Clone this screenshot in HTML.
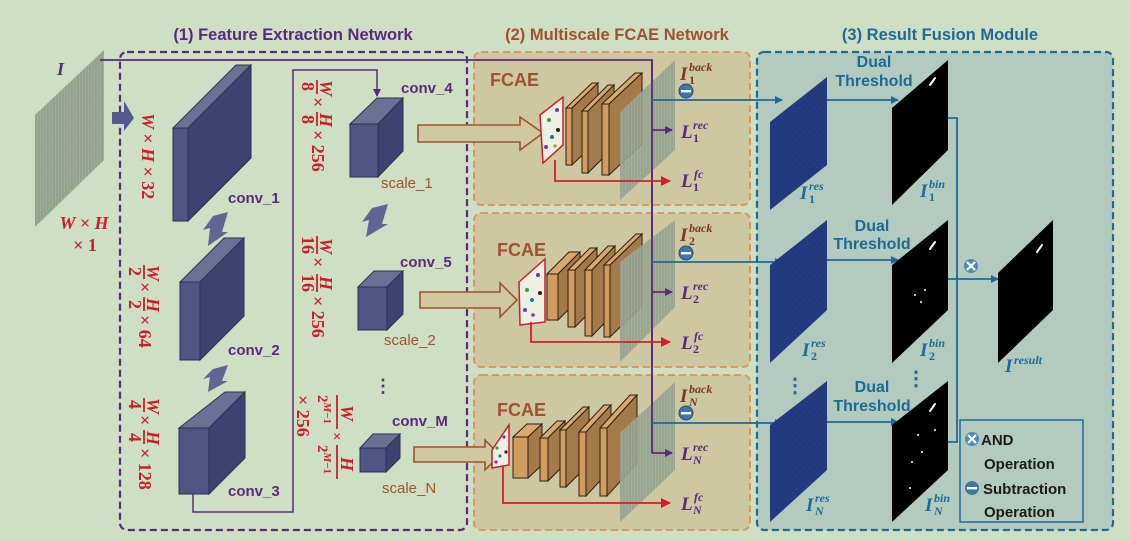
<!DOCTYPE html>
<html><head><meta charset="utf-8"><style>html,body{margin:0;padding:0;background:#cfdfc4}svg{display:block}</style></head>
<body>
<svg width="1130" height="541" viewBox="0 0 1130 541" xmlns="http://www.w3.org/2000/svg" font-family="Liberation Sans, sans-serif">
<defs>
<marker id="ab" markerWidth="8" markerHeight="8" refX="7" refY="4" orient="auto" markerUnits="userSpaceOnUse"><path d="M0,0 L8,4 L0,8z" fill="#1e6a97"/></marker>
<marker id="ap" markerWidth="8" markerHeight="8" refX="7" refY="4" orient="auto" markerUnits="userSpaceOnUse"><path d="M0,0 L8,4 L0,8z" fill="#5b2a7c"/></marker>
<marker id="ar" markerWidth="10" markerHeight="10" refX="9" refY="5" orient="auto" markerUnits="userSpaceOnUse"><path d="M0,0 L10,5 L0,10z" fill="#d0202a"/></marker>
<pattern id="tex" width="6" height="6" patternUnits="userSpaceOnUse"><rect width="6" height="6" fill="#93a08c"/><path d="M1,0 L2,6 M4,0 L4.5,6" stroke="#a9b3a1" stroke-width="0.7"/></pattern>
<pattern id="res" width="7" height="7" patternUnits="userSpaceOnUse"><rect width="7" height="7" fill="#23397e"/><circle cx="2" cy="3" r="0.6" fill="#2c4690"/><circle cx="5" cy="6" r="0.6" fill="#2c4690"/></pattern>
</defs>
<rect width="1130" height="541" fill="#cfdfc4"/>

<text x="293" y="40" text-anchor="middle" font-size="16.5" font-weight="bold" fill="#5b2a7c">(1) Feature Extraction Network</text>
<text x="617" y="40" text-anchor="middle" font-size="16.5" font-weight="bold" fill="#a0522d">(2) Multiscale FCAE Network</text>
<text x="940" y="40" text-anchor="middle" font-size="16.5" font-weight="bold" fill="#1e6a97">(3) Result Fusion Module</text>

<rect x="120" y="52" width="347" height="478" rx="7" fill="none" stroke="#5b2a7c" stroke-width="2.2" stroke-dasharray="7,4"/>
<rect x="474" y="52" width="276" height="153" rx="7" fill="#cdc7a2" stroke="#d89a5c" stroke-width="2" stroke-dasharray="7,4"/>
<rect x="474" y="213" width="276" height="154" rx="7" fill="#cdc7a2" stroke="#d89a5c" stroke-width="2" stroke-dasharray="7,4"/>
<rect x="474" y="375" width="276" height="155" rx="7" fill="#cdc7a2" stroke="#d89a5c" stroke-width="2" stroke-dasharray="7,4"/>
<rect x="757" y="52" width="356" height="478" rx="7" fill="#b3cbbf" stroke="#1e6a97" stroke-width="2.2" stroke-dasharray="7,4"/>

<polygon points="35,115 104,50 104,160 35,227" fill="url(#tex)"/>
<text x="57" y="75" font-family="Liberation Serif, serif" font-style="italic" font-weight="bold" font-size="18" fill="#5b2a7c">I</text>
<text x="84" y="229" text-anchor="middle" font-family="Liberation Serif, serif" font-style="italic" font-weight="bold" font-size="18" fill="#c8202a">W × H</text>
<text x="85" y="251" text-anchor="middle" font-family="Liberation Serif, serif" font-weight="bold" font-size="18" fill="#c8202a">× 1</text>
<polygon points="112,112 124,112 124,101 134,118 124,131 124,124 112,124" fill="#525a8e"/>

<polyline points="100,60 652,60 652,453 672,453" fill="none" stroke="#5b2a7c" stroke-width="1.8" marker-end="url(#ap)"/>
<polyline points="193,494 193,512 293,512 293,70 377,70 377,96" fill="none" stroke="#5b2a7c" stroke-width="1.5" marker-end="url(#ap)"/>

<g stroke="#2e3050" stroke-width="1">
<polygon points="173,128 236,65 251,65 188,128" fill="#6a7193"/><polygon points="188,128 251,65 251,158 188,221" fill="#3f4270"/><rect x="173" y="128" width="15" height="93" fill="#4f5585"/>
<polygon points="180,282 224,238 244,238 200,282" fill="#6a7193"/><polygon points="200,282 244,238 244,316 200,360" fill="#3f4270"/><rect x="180" y="282" width="20" height="78" fill="#4f5585"/>
<polygon points="179,428 225,392 245,392 209,428" fill="#6a7193"/><polygon points="209,428 245,392 245,458 209,494" fill="#3f4270"/><rect x="179" y="428" width="30" height="66" fill="#4f5585"/>
<polygon points="350,124 377,98 403,98 378,124" fill="#6a7193"/><polygon points="378,124 403,98 403,151 378,177" fill="#3f4270"/><rect x="350" y="124" width="28" height="53" fill="#4f5585"/>
<polygon points="358,287 374,271 403,271 387,287" fill="#6a7193"/><polygon points="387,287 403,271 403,314 387,330" fill="#3f4270"/><rect x="358" y="287" width="29" height="43" fill="#4f5585"/>
<polygon points="360,448 373,434 400,434 386,448" fill="#6a7193"/><polygon points="386,448 400,434 400,458 386,472" fill="#3f4270"/><rect x="360" y="448" width="26" height="24" fill="#4f5585"/>
</g>
<g fill="#5e6794">
<polygon points="213,216 228,212 222,232 228,232 208,246 210,228 203,230"/>
<polygon points="213,369 228,365 222,381 228,381 208,392 210,377 203,379"/>
<polygon points="372,208 388,204 382,224 388,224 366,237 369,220 362,222"/>
</g>
<g font-size="15" font-weight="bold" fill="#5b2a7c">
<text x="228" y="203">conv_1</text><text x="228" y="355">conv_2</text><text x="228" y="496">conv_3</text>
<text x="401" y="93">conv_4</text><text x="400" y="267">conv_5</text><text x="392" y="426">conv_M</text>
</g>
<g font-size="15" fill="#a0522d">
<text x="381" y="188">scale_1</text><text x="384" y="345">scale_2</text><text x="382" y="493">scale_N</text>
</g>
<text x="383" y="392" text-anchor="middle" font-size="18" font-weight="bold" fill="#5b2a7c">⋮</text>

<g font-family="Liberation Serif, serif" font-weight="bold" font-size="18" fill="#c8202a">
<g transform="translate(142,113) rotate(90)"><text x="0" y="0" font-style="italic">W <tspan font-style="normal">×</tspan> H <tspan font-style="normal">× 32</tspan></text></g>
<g transform="translate(129,265) rotate(90)">
 <text x="2" y="0">2</text><line x1="0" y1="-15" x2="14" y2="-15" stroke="#c8202a" stroke-width="1.8"/><text x="0" y="-18" font-style="italic">W</text>
 <text x="17" y="-10">×</text>
 <text x="35" y="0">2</text><line x1="32" y1="-15" x2="46" y2="-15" stroke="#c8202a" stroke-width="1.8"/><text x="33" y="-18" font-style="italic">H</text>
 <text x="50" y="-10">× 64</text></g>
<g transform="translate(129,398) rotate(90)">
 <text x="2" y="0">4</text><line x1="0" y1="-15" x2="14" y2="-15" stroke="#c8202a" stroke-width="1.8"/><text x="0" y="-18" font-style="italic">W</text>
 <text x="17" y="-10">×</text>
 <text x="35" y="0">4</text><line x1="32" y1="-15" x2="46" y2="-15" stroke="#c8202a" stroke-width="1.8"/><text x="33" y="-18" font-style="italic">H</text>
 <text x="50" y="-10">× 128</text></g>
<g transform="translate(302,80) rotate(90)">
 <text x="2" y="0">8</text><line x1="0" y1="-15" x2="14" y2="-15" stroke="#c8202a" stroke-width="1.8"/><text x="0" y="-18" font-style="italic">W</text>
 <text x="17" y="-10">×</text>
 <text x="35" y="0">8</text><line x1="32" y1="-15" x2="46" y2="-15" stroke="#c8202a" stroke-width="1.8"/><text x="33" y="-18" font-style="italic">H</text>
 <text x="50" y="-10">× 256</text></g>
<g transform="translate(302,236) rotate(90)">
 <text x="0" y="0">16</text><line x1="0" y1="-15" x2="18" y2="-15" stroke="#c8202a" stroke-width="1.8"/><text x="2" y="-18" font-style="italic">W</text>
 <text x="21" y="-10">×</text>
 <text x="38" y="0">16</text><line x1="38" y1="-15" x2="56" y2="-15" stroke="#c8202a" stroke-width="1.8"/><text x="40" y="-18" font-style="italic">H</text>
 <text x="60" y="-10">× 256</text></g>
<g transform="translate(297,395) rotate(90)"><text x="0" y="0">× 256</text></g>
<g transform="translate(318,395) rotate(90)" font-size="15">
 <text x="0" y="0">2<tspan font-size="11" dy="-6" font-style="italic">M</tspan><tspan font-size="11">−1</tspan></text><line x1="0" y1="-19" x2="34" y2="-19" stroke="#c8202a" stroke-width="1.8"/><text x="10" y="-23" font-style="italic" font-size="18">W</text>
 <text x="37" y="-14">×</text>
 <text x="50" y="0">2<tspan font-size="11" dy="-6" font-style="italic">M</tspan><tspan font-size="11">−1</tspan></text><line x1="50" y1="-19" x2="84" y2="-19" stroke="#c8202a" stroke-width="1.8"/><text x="62" y="-23" font-style="italic" font-size="18">H</text></g>
</g>

<g fill="#cfc8a0" stroke="#a0522d" stroke-width="1.6">
<polygon points="418,125 520,125 520,117 543,133 520,150 520,142 418,142"/>
<polygon points="420,292 500,292 500,283 517,300 500,317 500,308 420,308"/>
<polygon points="414,447 485,447 485,440 500,455 485,470 485,462 414,462"/>
</g>
<g font-size="18" font-weight="bold" fill="#a0522d">
<text x="490" y="86">FCAE</text><text x="497" y="256">FCAE</text><text x="497" y="416">FCAE</text>
</g>

<g stroke="#2a1e10" stroke-width="1">
<polygon points="540,115 563,97 563,145 543,163" fill="#eef0e6" stroke="#c8202a" stroke-width="1.5"/>
<polygon points="566,108 592,83 598,83 572,108" fill="#d9aa70"/><polygon points="572,108 598,83 598,140 572,165" fill="#a47a4a"/><rect x="566" y="108" width="6" height="57" fill="#d19c60"/>
<polygon points="582,111 608,85 614,85 588,111" fill="#d9aa70"/><polygon points="588,111 614,85 614,147 588,173" fill="#a47a4a"/><rect x="582" y="111" width="6" height="62" fill="#d19c60"/>
<polygon points="602,104 635,73 642,73 609,104" fill="#d9aa70"/><polygon points="609,104 642,73 642,144 609,175" fill="#a47a4a"/><rect x="602" y="104" width="7" height="71" fill="#d19c60"/>
<polygon points="519,282 545,259 545,322 520,325" fill="#eef0e6" stroke="#c8202a" stroke-width="1.5"/>
<polygon points="547,274 569,252 580,252 558,274" fill="#d9aa70"/><polygon points="558,274 580,252 580,298 558,320" fill="#a47a4a"/><rect x="547" y="274" width="11" height="46" fill="#d19c60"/>
<polygon points="568,270 590,248 597,248 575,270" fill="#d9aa70"/><polygon points="575,270 597,248 597,305 575,327" fill="#a47a4a"/><rect x="568" y="270" width="7" height="57" fill="#d19c60"/>
<polygon points="585,270 608,246 615,246 592,270" fill="#d9aa70"/><polygon points="592,270 615,246 615,312 592,336" fill="#a47a4a"/><rect x="585" y="270" width="7" height="66" fill="#d19c60"/>
<polygon points="604,265 636,234 642,234 610,265" fill="#d9aa70"/><polygon points="610,265 642,234 642,306 610,337" fill="#a47a4a"/><rect x="604" y="265" width="6" height="72" fill="#d19c60"/>
<polygon points="492,450 509,425 509,465 492,468" fill="#eef0e6" stroke="#c8202a" stroke-width="1.5"/>
<polygon points="513,437 527,424 542,424 528,437" fill="#d9aa70"/><polygon points="528,437 542,424 542,465 528,478" fill="#a47a4a"/><rect x="513" y="437" width="15" height="41" fill="#d19c60"/>
<polygon points="540,438 557,421 565,421 548,438" fill="#d9aa70"/><polygon points="548,438 565,421 565,464 548,481" fill="#a47a4a"/><rect x="540" y="438" width="8" height="43" fill="#d19c60"/>
<polygon points="560,430 583,407 589,407 566,430" fill="#d9aa70"/><polygon points="566,430 589,407 589,464 566,487" fill="#a47a4a"/><rect x="560" y="430" width="6" height="57" fill="#d19c60"/>
<polygon points="579,432 604,405 611,405 586,432" fill="#d9aa70"/><polygon points="586,432 611,405 611,469 586,496" fill="#a47a4a"/><rect x="579" y="432" width="7" height="64" fill="#d19c60"/>
<polygon points="600,428 630,395 637,395 607,428" fill="#d9aa70"/><polygon points="607,428 637,395 637,463 607,496" fill="#a47a4a"/><rect x="600" y="428" width="7" height="68" fill="#d19c60"/>
</g>
<g>
<circle cx="549" cy="120" r="2" fill="#3a9a3a"/><circle cx="557" cy="110" r="2" fill="#6a3a9a"/><circle cx="552" cy="137" r="2" fill="#1a7a9a"/><circle cx="558" cy="130" r="2" fill="#222"/><circle cx="546" cy="147" r="2" fill="#7a3a9a"/><circle cx="555" cy="146" r="1.8" fill="#c8a020"/>
<circle cx="527" cy="290" r="2" fill="#3a9a3a"/><circle cx="538" cy="275" r="2" fill="#6a3a9a"/><circle cx="532" cy="300" r="2" fill="#1a7a9a"/><circle cx="540" cy="293" r="2" fill="#222"/><circle cx="525" cy="310" r="2" fill="#7a3a9a"/><circle cx="533" cy="315" r="1.8" fill="#7a3a9a"/>
<circle cx="497" cy="448" r="1.6" fill="#3a9a3a"/><circle cx="504" cy="437" r="1.6" fill="#6a3a9a"/><circle cx="500" cy="456" r="1.6" fill="#1a7a9a"/><circle cx="506" cy="452" r="1.6" fill="#222"/><circle cx="496" cy="462" r="1.6" fill="#7a3a9a"/>
</g>
<polygon points="620,112 675,60 675,150 620,200" fill="url(#tex)" opacity="0.9"/>
<polygon points="620,262 675,220 675,307 620,362" fill="url(#tex)" opacity="0.9"/>
<polygon points="620,433 675,382 675,470 620,522" fill="url(#tex)" opacity="0.9"/>
<line x1="652" y1="60" x2="652" y2="453" stroke="#5b2a7c" stroke-width="1.8"/>
<line x1="652" y1="130" x2="672" y2="130" stroke="#5b2a7c" stroke-width="1.8" marker-end="url(#ap)"/>
<line x1="652" y1="292" x2="672" y2="292" stroke="#5b2a7c" stroke-width="1.8" marker-end="url(#ap)"/>
<line x1="652" y1="453" x2="672" y2="453" stroke="#5b2a7c" stroke-width="1.8" marker-end="url(#ap)"/>

<polyline points="555,160 555,181 670,181" fill="none" stroke="#d0202a" stroke-width="1.8" marker-end="url(#ar)"/>
<polyline points="531,322 531,342 670,342" fill="none" stroke="#d0202a" stroke-width="1.8" marker-end="url(#ar)"/>
<polyline points="503,466 503,503 670,503" fill="none" stroke="#d0202a" stroke-width="1.8" marker-end="url(#ar)"/>

<g font-family="Liberation Serif, serif" font-style="italic" font-weight="bold">
<g fill="#7a3a1e"><text x="680" y="80" font-size="19">I</text><text x="689" y="71" font-size="12">back</text><text x="689" y="84" font-size="12" font-style="normal">1</text>
<text x="680" y="241" font-size="19">I</text><text x="689" y="232" font-size="12">back</text><text x="689" y="245" font-size="12" font-style="normal">2</text>
<text x="680" y="402" font-size="19">I</text><text x="689" y="393" font-size="12">back</text><text x="689" y="406" font-size="12">N</text></g>
<g fill="#5b2a7c">
<text x="681" y="138" font-size="19">L</text><text x="693" y="129" font-size="12">rec</text><text x="693" y="142" font-size="12" font-style="normal">1</text>
<text x="681" y="187" font-size="19">L</text><text x="694" y="178" font-size="12">fc</text><text x="693" y="191" font-size="12" font-style="normal">1</text>
<text x="681" y="299" font-size="19">L</text><text x="693" y="290" font-size="12">rec</text><text x="693" y="303" font-size="12" font-style="normal">2</text>
<text x="681" y="349" font-size="19">L</text><text x="694" y="340" font-size="12">fc</text><text x="693" y="353" font-size="12" font-style="normal">2</text>
<text x="681" y="460" font-size="19">L</text><text x="693" y="451" font-size="12">rec</text><text x="693" y="464" font-size="12">N</text>
<text x="681" y="510" font-size="19">L</text><text x="694" y="501" font-size="12">fc</text><text x="693" y="514" font-size="12">N</text></g>
</g>
<g>
<circle cx="686" cy="91" r="7" fill="#3f78a8" stroke="#24507a"/><rect x="681" y="90" width="10" height="2.4" fill="#fff"/>
<circle cx="686" cy="253" r="7" fill="#3f78a8" stroke="#24507a"/><rect x="681" y="252" width="10" height="2.4" fill="#fff"/>
<circle cx="686" cy="413" r="7" fill="#3f78a8" stroke="#24507a"/><rect x="681" y="412" width="10" height="2.4" fill="#fff"/>
</g>

<g stroke="#1e6a97" stroke-width="1.8" fill="none">
<line x1="652" y1="100" x2="782" y2="100" marker-end="url(#ab)"/>
<line x1="652" y1="262" x2="782" y2="262" marker-end="url(#ab)"/>
<line x1="652" y1="423" x2="782" y2="423" marker-end="url(#ab)"/>
<line x1="827" y1="100" x2="898" y2="100" marker-end="url(#ab)"/>
<line x1="827" y1="260" x2="898" y2="260" marker-end="url(#ab)"/>
<line x1="827" y1="422" x2="898" y2="422" marker-end="url(#ab)"/>
<polyline points="948,118 957,118 957,442 948,442"/>
<line x1="948" y1="279" x2="998" y2="279" marker-end="url(#ab)"/>
</g>
<polygon points="770,122 827,77 827,165 770,210" fill="url(#res)"/>
<polygon points="770,265 827,220 827,310 770,363" fill="url(#res)"/>
<polygon points="770,425 827,381 827,470 770,522" fill="url(#res)"/>
<polygon points="892,108 948,60 948,150 892,205" fill="#000"/>
<polygon points="892,265 948,220 948,310 892,363" fill="#000"/>
<polygon points="892,425 948,381 948,470 892,522" fill="#000"/>
<polygon points="998,273 1053,220 1053,310 998,363" fill="#000"/>
<g stroke="#fff" stroke-width="2" stroke-linecap="round">
<line x1="930" y1="85" x2="935" y2="78"/><line x1="930" y1="249" x2="935" y2="242"/><line x1="930" y1="411" x2="935" y2="404"/><line x1="1037" y1="252" x2="1042" y2="245"/>
</g>
<g fill="#fff"><circle cx="915" cy="295" r="1"/><circle cx="925" cy="290" r="1"/><circle cx="921" cy="302" r="1"/><circle cx="912" cy="462" r="1"/><circle cx="922" cy="452" r="1"/><circle cx="918" cy="435" r="1"/><circle cx="910" cy="488" r="1"/><circle cx="935" cy="430" r="1"/></g>

<g font-size="16" font-weight="bold" fill="#1e6a97" text-anchor="middle">
<text x="874" y="67">Dual</text><text x="874" y="86">Threshold</text>
<text x="872" y="231">Dual</text><text x="872" y="249">Threshold</text>
<text x="872" y="392">Dual</text><text x="872" y="411">Threshold</text>
</g>
<text x="795" y="392" text-anchor="middle" font-size="20" font-weight="bold" fill="#1e6a97">⋮</text>
<text x="916" y="385" text-anchor="middle" font-size="20" font-weight="bold" fill="#1e6a97">⋮</text>

<g font-family="Liberation Serif, serif" font-style="italic" font-weight="bold" fill="#1e6a97">
<text x="800" y="199" font-size="19">I</text><text x="809" y="190" font-size="12">res</text><text x="809" y="203" font-size="12" font-style="normal">1</text>
<text x="802" y="356" font-size="19">I</text><text x="811" y="347" font-size="12">res</text><text x="811" y="360" font-size="12" font-style="normal">2</text>
<text x="806" y="511" font-size="19">I</text><text x="815" y="502" font-size="12">res</text><text x="815" y="515" font-size="12">N</text>
<text x="920" y="197" font-size="19">I</text><text x="929" y="188" font-size="12">bin</text><text x="929" y="201" font-size="12" font-style="normal">1</text>
<text x="920" y="356" font-size="19">I</text><text x="929" y="347" font-size="12">bin</text><text x="929" y="360" font-size="12" font-style="normal">2</text>
<text x="925" y="511" font-size="19">I</text><text x="934" y="502" font-size="12">bin</text><text x="934" y="515" font-size="12">N</text>
<text x="1005" y="372" font-size="19">I</text><text x="1014" y="364" font-size="12">result</text>
</g>

<g><circle cx="971" cy="266" r="7" fill="#4f8ab8"/><path d="M967,262 L975,270 M975,262 L967,270" stroke="#fff" stroke-width="2.2"/></g>
<rect x="960" y="420" width="123" height="102" fill="none" stroke="#1e6a97" stroke-width="1.5"/>
<g><circle cx="972" cy="439" r="7" fill="#4f8ab8"/><path d="M968,435 L976,443 M976,435 L968,443" stroke="#fff" stroke-width="2.2"/></g>
<g><circle cx="972" cy="488" r="7" fill="#3f78a8"/><rect x="967" y="487" width="10" height="2.4" fill="#fff"/></g>
<g font-size="15" font-weight="bold" fill="#1a1a1a">
<text x="981" y="445">AND</text><text x="984" y="469">Operation</text>
<text x="983" y="494">Subtraction</text><text x="984" y="517">Operation</text>
</g>
</svg>
</body></html>
